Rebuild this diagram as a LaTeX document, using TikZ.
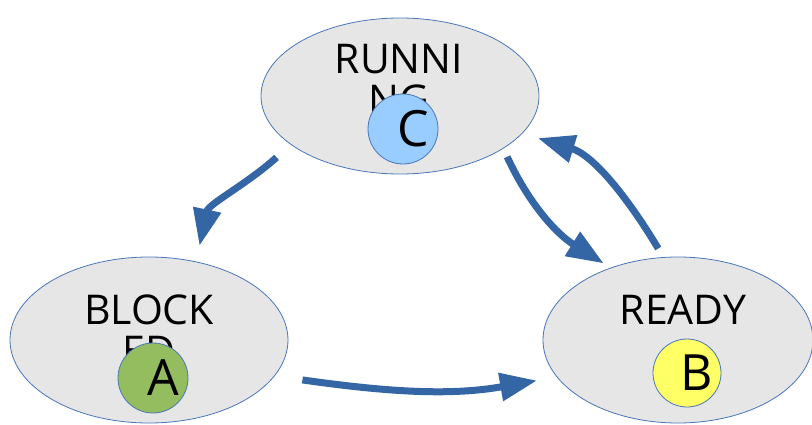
\documentclass[tikz,border=0pt]{standalone}
\usepackage{fontspec}
\setmainfont{Open Sans}
\usetikzlibrary{shapes.geometric, arrows.meta}
\definecolor{stateFill}{HTML}{E6E6E6}
\definecolor{stateLine}{HTML}{4A76B8}
\definecolor{flowBlue}{HTML}{3465A4}
\definecolor{fillC}{HTML}{99CCFF}
\definecolor{fillA}{HTML}{93BD5F}
\definecolor{fillB}{HTML}{FFFF66}
\tikzstyle{state} = [ellipse, 
			draw = stateLine, 
			line width = 0.8pt, 
			fill = stateFill, 
			inner sep = 0pt]
\tikzstyle{stateText} = [align = center, 
			inner sep = 0pt, 
			anchor = base, 
			font = \fontsize{41}{41}\selectfont]
\tikzstyle{token} = [circle, 
			draw = stateLine, 
			line width = 0.8pt, 
			minimum size = 70pt, 
			inner sep = 0pt, 
			font = \fontsize{50}{50}\selectfont, 
			execute at begin node = {\hspace*{20pt}}]
\tikzstyle{line} = [draw = flowBlue, line width = 7pt, -{Triangle[length=37pt, width=27pt]}]

\begin{document}
\begin{tikzpicture}[x = 1pt, y = 1pt]
	\useasboundingbox (0,0) rectangle (812,424);
	\node [state, minimum width = 278pt, minimum height = 156pt] (running) at (400,328) {};
	\node [state, minimum width = 278pt, minimum height = 166pt] (blocked) at (149,84) {};
	\node [state, minimum width = 270pt, minimum height = 166pt] (ready) at (678,84) {};
	\node [stateText] (runningText) at (399,309) {RUNNI\\NG};
	\node [stateText] (blockedText) at (149,59) {BLOCK\\ED};
	\node [stateText] (readyText) at (683,100) {READY};
	\node [token, fill = fillC] (tokenC) at (403,295) {C};
	\node [token, fill = fillA] (tokenA) at (153,46) {A};
	\node [token, fill = fillB, minimum size = 68pt] (tokenB) at (687,51) {B};
	\path [line, shorten <= 19pt, shorten >= 16pt] (running.204) to[out = 222, in = 78] (blocked.59);
	\path [line, shorten <= 9pt, shorten >= 8pt] (running.333) to[out = -65, in = 148] (ready.133);
	\path [line, shorten <= 10pt, shorten >= 16pt] (ready.100) to[out = 121, in = -17] (running.343);
	\path [line, shorten <= 28pt, shorten >= 20pt] (blocked.-16) to[out = -8, in = 190] (ready.197);
\end{tikzpicture}
\end{document}
